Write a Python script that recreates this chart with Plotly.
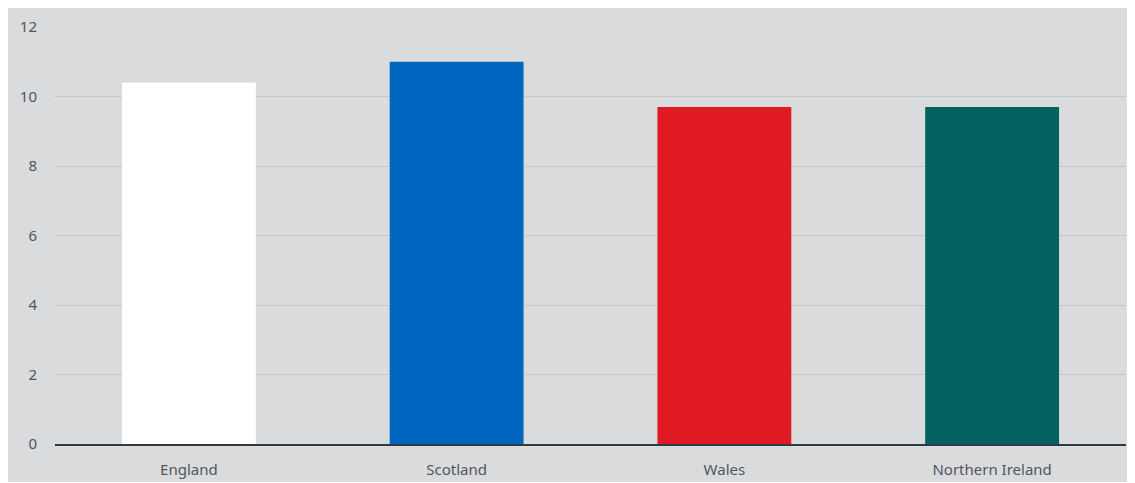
import plotly.graph_objects as go

categories = ["England", "Scotland", "Wales", "Northern Ireland"]
values = [10.4, 11.0, 9.7, 9.7]
bar_colors = ["#ffffff", "#0066bf", "#e01a22", "#03625f"]
y_ticks = [0, 2, 4, 6, 8, 10, 12]

BG = "#dadbdd"
FONT = dict(family="Noto Sans", size=15, color="#50565d")

fig = go.Figure(go.Bar(x=categories, y=values, marker=dict(color=bar_colors, line=dict(width=0)),
                       hoverinfo="x+y"))

fig.update_layout(
    width=1127, height=474,
    margin=dict(l=47, r=9, t=19, b=38, pad=0, autoexpand=False),
    paper_bgcolor=BG, plot_bgcolor=BG,
    bargap=0.5, showlegend=False, font=FONT,
)
fig.update_xaxes(showgrid=False, showline=True, linecolor="#2f3a44", linewidth=1.5,
                 ticks="", ticklabelstandoff=11, tickfont=FONT, automargin=False)
fig.update_yaxes(range=[0, 12], tickvals=y_ticks, showgrid=True, gridcolor="#c6c7ca", gridwidth=1.2,
                 zeroline=False, showline=False, ticks="", ticklabelstandoff=17, tickfont=FONT,
                 automargin=False)

fig.write_html("out.html")
